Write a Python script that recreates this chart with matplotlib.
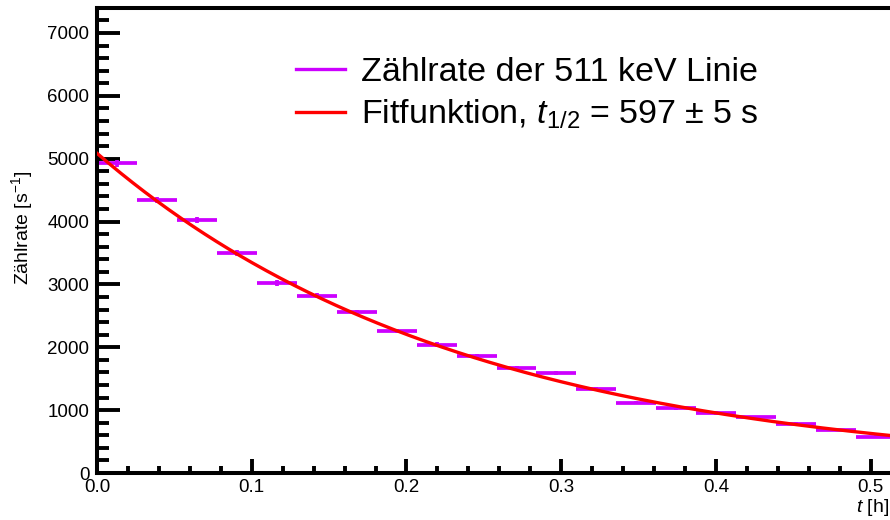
import numpy as np
import matplotlib
matplotlib.use("Agg")
import matplotlib.pyplot as plt
from matplotlib.lines import Line2D
from matplotlib.ticker import MultipleLocator, FormatStrFormatter

plt.rcParams['font.family'] = ['Liberation Sans', 'DejaVu Sans']
plt.rcParams['mathtext.fontset'] = 'custom'
plt.rcParams['mathtext.rm'] = 'Liberation Sans'
plt.rcParams['mathtext.it'] = 'Liberation Sans:italic'
plt.rcParams['mathtext.bf'] = 'Liberation Sans:bold'

# ---- data ----
bin_edges_h = [0.0, 0.0258, 0.0516, 0.0775, 0.1033, 0.1291, 0.1549, 0.1807,
               0.2066, 0.2324, 0.2582, 0.2840, 0.3098, 0.3357, 0.3615, 0.3873,
               0.4131, 0.4389, 0.4648, 0.4906, 0.5164]
rate = [4927, 4343, 4030, 3495, 3023, 2821, 2561, 2259, 2041, 1858,
        1675, 1586, 1331, 1119, 1029, 954, 886, 785, 684, 578]
rate_err = [55, 53, 50, 47, 44, 42, 40, 38, 36, 34,
            33, 32, 30, 28, 27, 26, 25, 24, 23, 22]

fit_A0 = 5086.0        # counts/s at t = 0
fit_thalf_s = 597.0    # half-life in seconds

x_ticks = [0.0, 0.1, 0.2, 0.3, 0.4, 0.5]
y_ticks = [0, 1000, 2000, 3000, 4000, 5000, 6000, 7000]

label_data = "Zählrate der 511 keV Linie"
label_fit = r"Fitfunktion, $t_{1/2}$ = 597 ± 5 s"

# ---- figure ----
W, H = 890, 520
fig = plt.figure(figsize=(W / 100, H / 100), dpi=100)
ax_left, ax_right, ax_bottom, ax_top = 97, 892, 473, 7.5
ax = fig.add_axes([ax_left / W, 1 - ax_bottom / H,
                   (ax_right - ax_left) / W, (ax_bottom - ax_top) / H])

xmax = (ax_right - ax_left) / 1547.4
ymax = (ax_bottom - ax_top) / 62.86 * 1000
ax.set_xlim(0, xmax)
ax.set_ylim(0, ymax)

edges = np.array(bin_edges_h)
centers = 0.5 * (edges[:-1] + edges[1:])
halfw = 0.5 * (edges[1:] - edges[:-1])

purple = '#CC00FF'
red = '#FF0000'

ax.errorbar(centers, rate, xerr=halfw, yerr=rate_err, fmt='none',
            ecolor=purple, elinewidth=2.7, capsize=0, zorder=2)

t = np.linspace(0, xmax, 400)
fit = fit_A0 * np.exp(-np.log(2) * t * 3600 / fit_thalf_s)
ax.plot(t, fit, color=red, lw=2.4, zorder=3)

# ---- axes styling (ROOT-like) ----
for s in ax.spines.values():
    s.set_linewidth(2.9)
ax.set_xticks(x_ticks)
ax.set_yticks(y_ticks)
ax.xaxis.set_minor_locator(MultipleLocator(0.02))
ax.yaxis.set_minor_locator(MultipleLocator(200))
ax.xaxis.set_major_formatter(FormatStrFormatter('%.1f'))
ax.tick_params(axis='both', which='both', direction='in', width=2.8,
               top=False, right=False, labelsize=13.5, colors='black')
ax.tick_params(axis='x', which='major', length=10, pad=4)
ax.tick_params(axis='x', which='minor', length=5)
ax.tick_params(axis='y', which='major', length=16.5, pad=5.5)
ax.tick_params(axis='y', which='minor', length=8.5)

fig.text(22 / W, 1 - 228 / H, r"Zählrate [s$^{-1}$]", rotation=90,
         ha='center', va='center', fontsize=14)
fig.text(889 / W, 1 - 508 / H, r"$t$ [h]", ha='right', va='center',
         fontsize=14)

handles = [Line2D([], [], color=purple, lw=2.4),
           Line2D([], [], color=red, lw=2.4)]
leg = ax.legend(handles, [label_data, label_fit], loc='upper left',
                bbox_to_anchor=(296 / W, 1 - 57 / H),
                bbox_transform=fig.transFigure, frameon=False,
                fontsize=24.5, handlelength=1.45, handletextpad=0.45,
                borderpad=0, borderaxespad=0, labelspacing=0.29)

fig.savefig('out.png', dpi=100)
